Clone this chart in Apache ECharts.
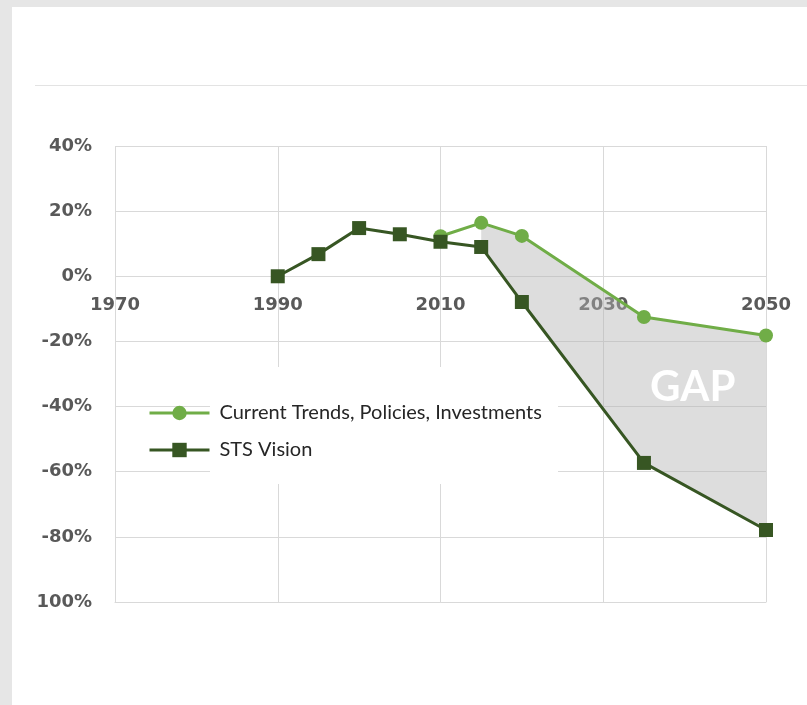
<!DOCTYPE html>
<html>
<head>
<meta charset="utf-8">
<script src="https://cdn.jsdelivr.net/npm/echarts@6/dist/echarts.min.js"></script>
<style>
  html, body { margin: 0; padding: 0; background: #e6e6e6; width: 807px; height: 705px; overflow: hidden; }
  #panel { position: absolute; left: 12px; top: 7px; width: 795px; height: 698px; background: #fff; }
  #rule { position: absolute; left: 23px; top: 78px; width: 772px; height: 0; border-top: 1px solid #e3e3e3; }
  #chart { position: absolute; left: 0; top: 0; width: 795px; height: 698px; }
</style>
</head>
<body>
<div id="panel">
  <div id="rule"></div>
  <div id="chart"></div>
</div>
<script>
// values, in percent
const trendYears = [2010, 2015, 2020, 2035, 2050]
const trendValues = [12.3, 16.4, 12.4, -12.5, -18.2]
const stsYears = [1990, 1995, 2000, 2005, 2010, 2015, 2020, 2035, 2050]
const stsValues = [0, 6.8, 14.8, 12.9, 10.6, 9.0, -7.9, -57.3, -77.9]
const gapYears = [2015, 2020, 2035, 2050]
const yTicks = [40, 20, 0, -20, -40, -60, -80, -100]
const yTickLabels = ["40%", "20%", "0%", "-20%", "-40%", "-60%", "-80%", "100%"]
const seriesNames = ["Current Trends, Policies, Investments", "STS Vision"]
const gapLabel = "GAP"
const gapLabelAt = [2041, -34]

const lightGreen = "#70ad47"
const darkGreen = "#375623"
const gridColor = "#d9d9d9"

let myChart = echarts.init(document.getElementById("chart"))

myChart.setOption({
  animation: false,
  grid: {
    left: 103,
    top: 139,
    right: 41,
    bottom: 103,
    containLabel: false,
    outerBoundsMode: "none"
  },
  xAxis: {
    type: "value",
    min: 1970,
    max: 2050,
    interval: 20,
    axisLine: { show: true, onZero: false, lineStyle: { color: gridColor } },
    axisTick: { show: false },
    splitLine: { show: true, lineStyle: { color: gridColor } },
    axisLabel: {
      // labels sit just under the 0% line, like the original
      margin: -306,
      color: "#595959",
      fontFamily: "DejaVu Sans",
      fontWeight: "bold",
      fontSize: 18,
      formatter: function (v) {
        return String(v)
      }
    }
  },
  yAxis: {
    type: "value",
    min: -100,
    max: 40,
    interval: 20,
    axisLine: { show: false },
    axisTick: { show: false },
    splitLine: { show: true, lineStyle: { color: gridColor } },
    axisLabel: {
      margin: 23,
      color: "#595959",
      fontFamily: "DejaVu Sans",
      fontWeight: "bold",
      fontSize: 18,
      formatter: function (v) {
        let i = yTicks.indexOf(v)
        return i >= 0 ? yTickLabels[i] : ""
      }
    }
  },
  legend: {
    data: seriesNames,
    orient: "vertical",
    left: 136,
    top: 396,
    padding: 0,
    itemWidth: 60,
    itemHeight: 18,
    itemGap: 17,
    z: 10,
    lineStyle: { width: 3 },
    textStyle: {
      fontFamily: "Lato",
      fontSize: 20,
      color: "#262626",
      padding: [0, 0, 8, 5]
    }
  },
  graphic: [
    {
      type: "rect",
      z: 3,
      shape: { x: 198, y: 360, width: 348, height: 117 },
      style: { fill: "#fff" }
    }
  ],
  series: [
    {
      type: "custom",
      z: 2,
      silent: true,
      data: gapYears.map(y => [y, 0]),
      renderItem: function (params, api) {
        if (params.dataIndex !== 0) return null
        let upper = gapYears.map(y => api.coord([y, trendValues[trendYears.indexOf(y)]]))
        let lower = gapYears.map(y => api.coord([y, stsValues[stsYears.indexOf(y)]])).reverse()
        let c = api.coord(gapLabelAt)
        return {
          type: "group",
          children: [
            {
              type: "polygon",
              shape: { points: upper.concat(lower) },
              style: { fill: "rgba(180,180,180,0.45)" }
            },
            {
              type: "text",
              x: c[0],
              y: c[1],
              style: {
                text: gapLabel,
                fill: "#ffffff",
                font: "bold 42px Lato",
                align: "center",
                verticalAlign: "middle"
              }
            }
          ]
        }
      }
    },
    {
      name: seriesNames[0],
      type: "line",
      z: 3,
      data: trendYears.map((y, i) => [y, trendValues[i]]),
      symbol: "circle",
      symbolSize: 14,
      lineStyle: { width: 3, color: lightGreen },
      itemStyle: { color: lightGreen }
    },
    {
      name: seriesNames[1],
      type: "line",
      z: 4,
      data: stsYears.map((y, i) => [y, stsValues[i]]),
      symbol: "rect",
      symbolSize: 14,
      lineStyle: { width: 3, color: darkGreen },
      itemStyle: { color: darkGreen }
    }
  ]
})
</script>
</body>
</html>
